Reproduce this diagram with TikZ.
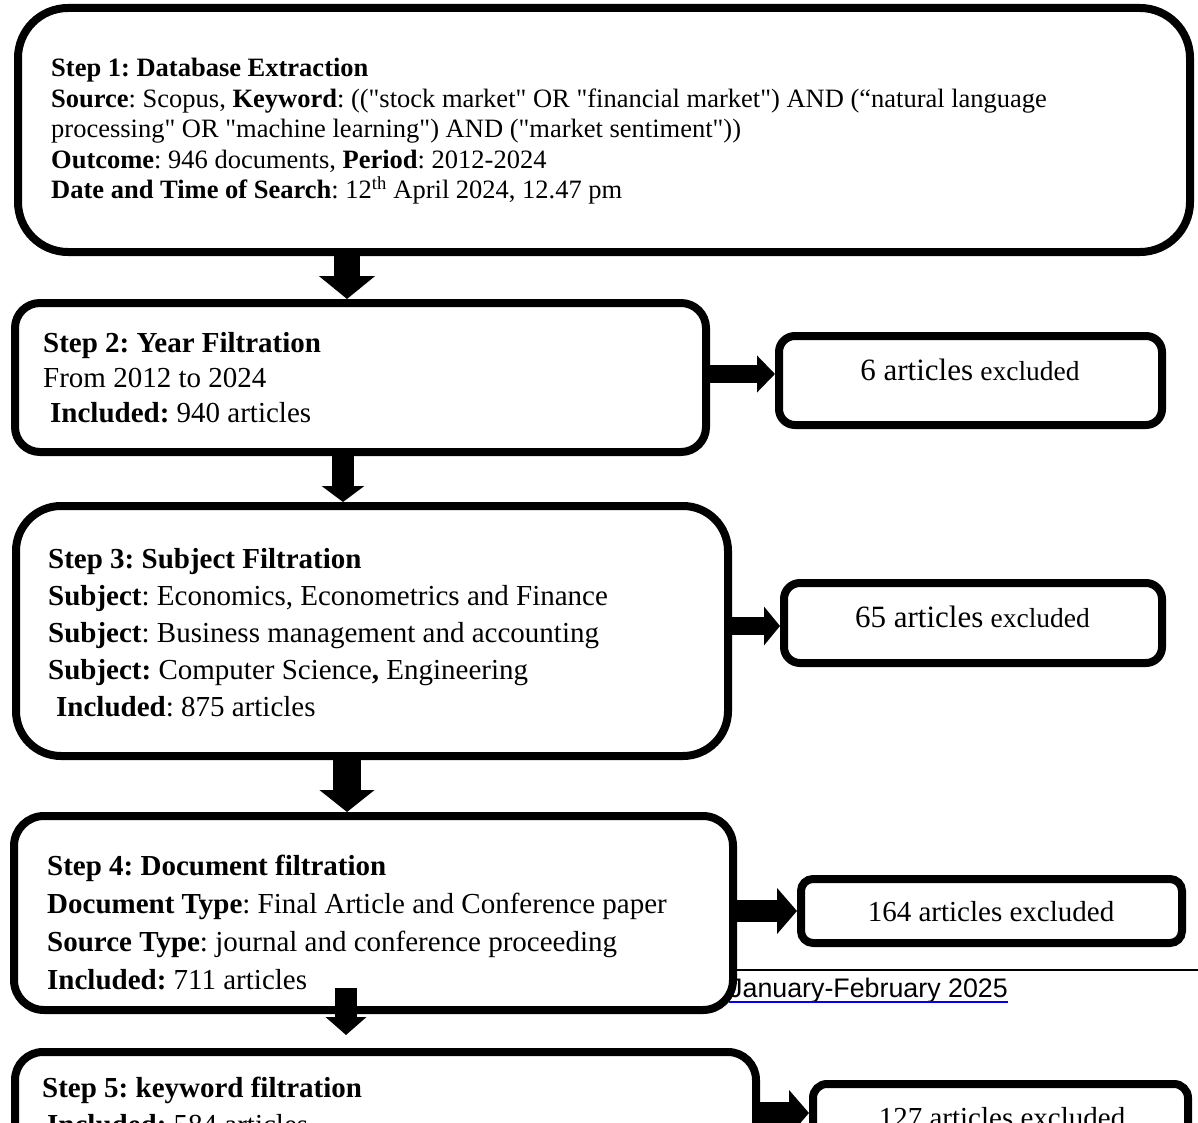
\documentclass[tikz,border=0pt]{standalone}
\usepackage{fontspec}
\setmainfont{Liberation Serif}
\newfontfamily\footfont{Liberation Sans}
\usetikzlibrary{arrows.meta}
\frenchspacing

\tikzset{
    stepbox/.style={draw, line width=8pt, fill=white, rounded corners=#1, inner sep=0pt},
    stepbox/.default=25pt,
    steptxt/.style={anchor=base west, align=left, inner sep=0pt, font=\fontsize{29}{37}\selectfont},
    extxt/.style={anchor=base, inner sep=0pt, font=\fontsize{29}{34}\selectfont},
    flow/.style={draw, line width=#1},
}

\newcommand{\bigart}[1]{{\fontsize{31}{34}\selectfont #1}}
\newcommand{\smallex}[1]{{\fontsize{27.5}{34}\selectfont #1}}
\newcommand{\sq}{\textquotedbl}

\begin{document}
\begin{tikzpicture}[x=1pt, y=-1pt]
    \useasboundingbox (0,0) rectangle (1198,1123);
    \clip (0,0) rectangle (1198,1123);

    % page footer behind the boxes
    \coordinate (fl) at (733,970);
    \coordinate (fr) at (1198,970);
    \draw[line width=1.5pt] (fl) -- (fr);
    \node[anchor=base west, inner sep=0pt, font=\footfont\fontsize{26.8}{30}\selectfont] (foot) at (729,997) {January-February 2025};
    \draw[blue, line width=2pt] ([yshift=-5pt]foot.base west) -- ([yshift=-5pt]foot.base east);

    % step boxes
    \node[stepbox=50pt, minimum width=1172pt, minimum height=244pt] (s1) at (604,130) {};
    \node[stepbox=25pt, minimum width=691pt, minimum height=149pt] (s2) at (360.5,377.5) {};
    \node[stepbox=45pt, minimum width=712pt, minimum height=250pt] (s3) at (372,631) {};
    \node[stepbox=30pt, minimum width=719pt, minimum height=194pt] (s4) at (373.5,913) {};
    \node[stepbox=28pt, minimum width=741pt, minimum height=198pt] (s5) at (385.5,1151) {};

    % excluded boxes
    \node[stepbox=16pt, minimum width=383pt, minimum height=89pt] (x1) at (970.5,380.5) {};
    \node[stepbox=16pt, minimum width=378pt, minimum height=80pt] (x2) at (973,623) {};
    \node[stepbox=12pt, minimum width=381pt, minimum height=64pt] (x3) at (991.5,911) {};
    \node[stepbox=14pt, minimum width=375pt, minimum height=76pt] (x4) at (1000.5,1122) {};

    % texts (placed by the baseline of their last line)
    \node[steptxt, font=\fontsize{26.5}{30.5}\selectfont] (s1t) at (51,199) {\textbf{Step 1: Database Extraction}\\
        \textbf{Source}: Scopus, \textbf{Keyword}: ((\sq stock market\sq{} OR \sq financial market\sq) AND (“natural language\\
        processing\sq{} OR \sq machine learning\sq) AND (\sq market sentiment\sq))\\
        \textbf{Outcome}: 946 documents, \textbf{Period}: 2012-2024\\
        \textbf{Date and Time of Search}: 12\textsuperscript{th} April 2024, 12.47 pm};
    \node[steptxt, font=\fontsize{29}{35}\selectfont] (s2t) at (43,422) {\textbf{Step 2: Year Filtration}\\
        From 2012 to 2024\\
        \hspace{7pt}\textbf{Included:} 940 articles};
    \node[steptxt] (s3t) at (48,716) {\textbf{Step 3: Subject Filtration}\\
        \textbf{Subject}: Economics, Econometrics and Finance\\
        \textbf{Subject}: Business management and accounting\\
        \textbf{Subject:} Computer Science\textbf{,} Engineering\\
        \hspace{8pt}\textbf{Included}: 875 articles};
    \node[steptxt, font=\fontsize{29}{38}\selectfont] (s4t) at (47,989) {\textbf{Step 4: Document filtration}\\
        \textbf{Document Type}: Final Article and Conference paper\\
        \textbf{Source Type}: journal and conference proceeding\\
        \textbf{Included:} 711 articles};
    \node[steptxt] (s5t) at (42,1134) {\textbf{Step 5: keyword filtration}\\
        \hspace{5pt}\textbf{Included:} 584 articles};

    \node[extxt] (x1t) at (970,380) {\bigart{6 articles} \smallex{excluded}};
    \node[extxt] (x2t) at (972.5,627) {\bigart{65 articles} \smallex{excluded}};
    \node[extxt] (x3t) at (991,921.5) {164 articles excluded};
    \node[extxt] (x4t) at (1002,1127) {127 articles excluded};

    % arrows
    \coordinate (a12) at (347,0);
    \coordinate (a23) at (343,0);
    \coordinate (a34) at (347,0);
    \coordinate (a45s) at (346,988);
    \coordinate (a45e) at (346,1035);
    \coordinate (h1) at (0,374);
    \coordinate (h2) at (0,626);
    \coordinate (h3) at (0,911);
    \coordinate (h4) at (0,1113);

    \draw[flow=26pt, -{Triangle[width=55pt, length=23pt]}] (s1.south -| a12) -- (s2.north -| a12);
    \draw[flow=22pt, -{Triangle[width=42pt, length=16pt]}] (s2.south -| a23) -- (s3.north -| a23);
    \draw[flow=28pt, -{Triangle[width=54pt, length=22pt]}] (s3.south -| a34) -- (s4.north -| a34);
    \draw[flow=22pt, -{Triangle[width=40pt, length=18pt]}] (a45s) -- (a45e);

    \draw[flow=18pt, -{Triangle[width=36pt, length=18pt]}] (s2.east |- h1) -- (x1.west |- h1);
    \draw[flow=18pt, -{Triangle[width=38pt, length=16pt]}] (s3.east |- h2) -- (x2.west |- h2);
    \draw[flow=22pt, -{Triangle[width=45pt, length=20pt]}] (s4.east |- h3) -- (x3.west |- h3);
    \draw[flow=22pt, -{Triangle[width=45pt, length=20pt]}] (s5.east |- h4) -- (x4.west |- h4);
\end{tikzpicture}
\end{document}
